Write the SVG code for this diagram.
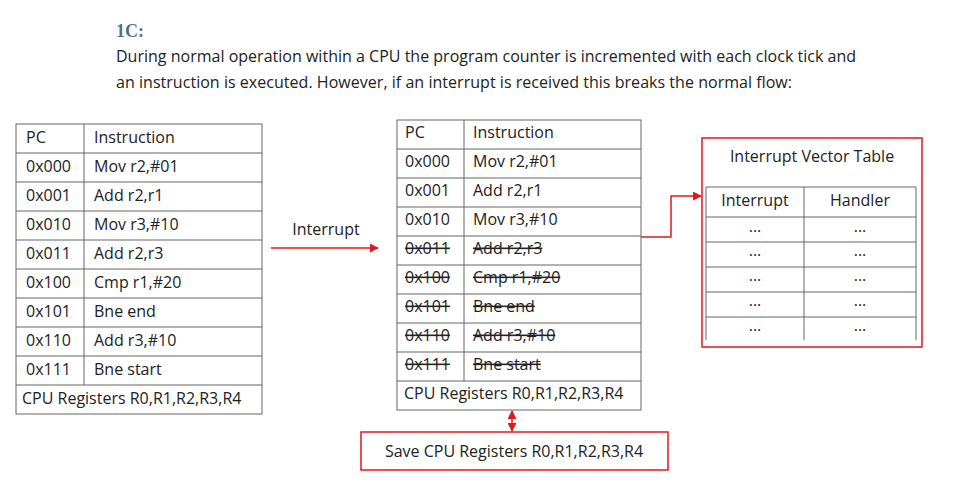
<svg xmlns="http://www.w3.org/2000/svg" width="960" height="494" viewBox="0 0 960 494">
<defs>
<style>
text{font-family:"Open Sans","Liberation Sans",sans-serif;font-size:16px;fill:#222}
.g{fill:none;stroke:#666;stroke-width:1}
.r{fill:none;stroke:#e0191f;stroke-width:1.5}
.s{text-decoration:line-through}
.c{text-anchor:middle}
</style>
<marker id="ah" viewBox="0 0 10 10" refX="9" refY="5" markerWidth="6" markerHeight="6" orient="auto-start-reverse"><path d="M0,0L10,5L0,10Z" fill="#e0191f"/></marker>
</defs>
<rect width="960" height="494" fill="#fff"/>
<text x="116" y="37" style="font-family:'Liberation Serif',serif;font-weight:bold;font-size:18px;fill:#4f6f94">1C:</text>
<text x="116" y="62" textLength="740">During normal operation within a CPU the program counter is incremented with each clock tick and</text>
<text x="116" y="88" textLength="676">an instruction is executed. However, if an interrupt is received this breaks the normal flow:</text>
<g id="left-table">
<rect class="g" x="16" y="124" width="246" height="290"/>
<path class="g" d="M84,124V385M16,153H262M16,182H262M16,211H262M16,240H262M16,269H262M16,298H262M16,327H262M16,356H262M16,385H262"/>
<text x="26" y="143">PC</text><text x="94" y="143">Instruction</text>
<text x="26" y="172">0x000</text><text x="94" y="172">Mov r2,#01</text>
<text x="26" y="201">0x001</text><text x="94" y="201">Add r2,r1</text>
<text x="26" y="230">0x010</text><text x="94" y="230">Mov r3,#10</text>
<text x="26" y="259">0x011</text><text x="94" y="259">Add r2,r3</text>
<text x="26" y="288">0x100</text><text x="94" y="288">Cmp r1,#20</text>
<text x="26" y="317">0x101</text><text x="94" y="317">Bne end</text>
<text x="26" y="346">0x110</text><text x="94" y="346">Add r3,#10</text>
<text x="26" y="375">0x111</text><text x="94" y="375">Bne start</text>
<text x="22" y="404">CPU Registers R0,R1,R2,R3,R4</text>
</g>
<g id="middle-table">
<rect class="g" x="397" y="120" width="244" height="290"/>
<path class="g" d="M464,120V381M397,149H641M397,178H641M397,207H641M397,236H641M397,265H641M397,294H641M397,323H641M397,352H641M397,381H641"/>
<text x="405" y="138">PC</text><text x="473" y="138">Instruction</text>
<text x="405" y="167">0x000</text><text x="473" y="167">Mov r2,#01</text>
<text x="405" y="196">0x001</text><text x="473" y="196">Add r2,r1</text>
<text x="405" y="225">0x010</text><text x="473" y="225">Mov r3,#10</text>
<text class="s" x="405" y="254">0x011</text><text class="s" x="473" y="254">Add r2,r3</text>
<text class="s" x="405" y="283">0x100</text><text class="s" x="473" y="283">Cmp r1,#20</text>
<text class="s" x="405" y="312">0x101</text><text class="s" x="473" y="312">Bne end</text>
<text class="s" x="405" y="341">0x110</text><text class="s" x="473" y="341">Add r3,#10</text>
<text class="s" x="405" y="370">0x111</text><text class="s" x="473" y="370">Bne start</text>
<text x="404" y="399">CPU Registers R0,R1,R2,R3,R4</text>
</g>
<g id="ivt">
<rect class="r" x="702" y="138" width="220" height="209"/>
<text class="c" x="812" y="162">Interrupt Vector Table</text>
<path class="g" d="M706,187H916M706,217H916M706,242H916M706,267H916M706,292H916M706,317H916M706,187V340M804,187V340M916,187V340"/>
<text class="c" x="755" y="206">Interrupt</text><text class="c" x="860" y="206">Handler</text>
<text class="c" x="755" y="232">...</text><text class="c" x="860" y="232">...</text>
<text class="c" x="755" y="256">...</text><text class="c" x="860" y="256">...</text>
<text class="c" x="755" y="281">...</text><text class="c" x="860" y="281">...</text>
<text class="c" x="755" y="306">...</text><text class="c" x="860" y="306">...</text>
<text class="c" x="755" y="331">...</text><text class="c" x="860" y="331">...</text>
</g>
<g id="save">
<rect class="r" x="361" y="432" width="307" height="38"/>
<text class="c" x="514" y="457">Save CPU Registers R0,R1,R2,R3,R4</text>
</g>
<g id="connectors">
<text class="c" x="326" y="235">Interrupt</text>
<path class="r" d="M271,248H378" marker-end="url(#ah)"/>
<path class="r" d="M641,237H671V196H701" marker-end="url(#ah)"/>
<path class="r" d="M512,411V431" marker-start="url(#ah)" marker-end="url(#ah)"/>
</g>
</svg>
